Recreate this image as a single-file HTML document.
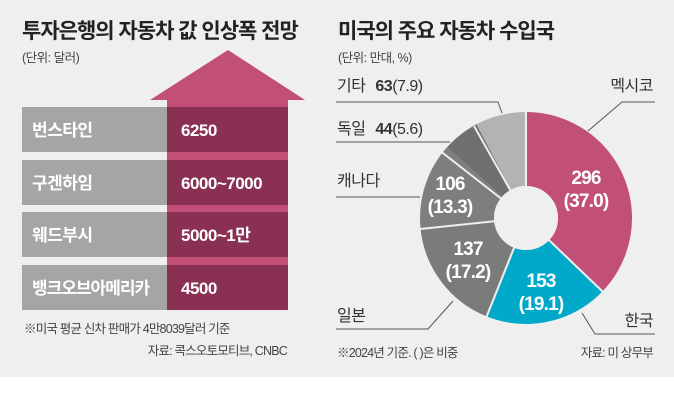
<!DOCTYPE html>
<html><head><meta charset="utf-8"><style>
body{margin:0;width:674px;height:414px;background:#fff;overflow:hidden;font-family:"Liberation Sans","Noto Sans CJK KR",sans-serif}
</style></head><body>
<svg width="674" height="414" xmlns="http://www.w3.org/2000/svg" style="font-family:'Liberation Sans','Noto Sans CJK KR',sans-serif">
<rect x="0" y="0" width="674" height="377" fill="#efefef"/>
<text x="22" y="38" font-size="21" font-weight="bold" fill="#222" letter-spacing="-1">투자은행의 자동차 값 인상폭 전망</text>
<text x="22" y="62" font-size="12.5" fill="#444" letter-spacing="-0.5">(단위: 달러)</text>
<polygon points="150,100 228,50 305,100 288,100 288,310 167,310 167,100" fill="#c24f78"/>
<g font-size="17" font-weight="bold" fill="#fff" letter-spacing="-0.5">
<rect x="22" y="107" width="145" height="45" fill="#a5a5a5"/><rect x="167" y="107" width="121" height="45" fill="#8a3052"/>
<text x="32" y="136">번스타인</text><text x="181" y="136">6250</text>
<rect x="22" y="160" width="145" height="45" fill="#a5a5a5"/><rect x="167" y="160" width="121" height="45" fill="#8a3052"/>
<text x="32" y="189">구겐하임</text><text x="181" y="189">6000~7000</text>
<rect x="22" y="212" width="145" height="45" fill="#a5a5a5"/><rect x="167" y="212" width="121" height="45" fill="#8a3052"/>
<text x="32" y="241">웨드부시</text><text x="181" y="241">5000~1만</text>
<rect x="22" y="265" width="145" height="45" fill="#a5a5a5"/><rect x="167" y="265" width="121" height="45" fill="#8a3052"/>
<text x="32" y="294" letter-spacing="-1">뱅크오브아메리카</text><text x="181" y="294">4500</text>
</g>
<text x="24" y="333" font-size="12.5" fill="#444" letter-spacing="-0.8">※미국 평균 신차 판매가 4만8039달러 기준</text>
<text x="287" y="355" font-size="12.5" fill="#444" letter-spacing="-0.8" text-anchor="end">자료: 콕스오토모티브, CNBC</text>

<text x="338" y="38" font-size="21" font-weight="bold" fill="#222" letter-spacing="-1">미국의 주요 자동차 수입국</text>
<text x="338" y="62" font-size="12.5" fill="#444" letter-spacing="-0.5">(단위: 만대, %)</text>

<g transform="rotate(-90 526 218)" fill="none" stroke-width="74">
<circle cx="526" cy="218" r="69" stroke="#c24f78" stroke-dasharray="160.4 433.5" stroke-dashoffset="0"/>
<circle cx="526" cy="218" r="69" stroke="#00a9ca" stroke-dasharray="82.8 433.5" stroke-dashoffset="-160.4"/>
<circle cx="526" cy="218" r="69" stroke="#7b7b7b" stroke-dasharray="74.6 433.5" stroke-dashoffset="-243.2"/>
<circle cx="526" cy="218" r="69" stroke="#7e7e7e" stroke-dasharray="57.7 433.5" stroke-dashoffset="-317.8"/>
<circle cx="526" cy="218" r="69" stroke="#6f6f6f" stroke-dasharray="24.3 433.5" stroke-dashoffset="-375.5"/>
<circle cx="526" cy="218" r="69" stroke="#b3b3b3" stroke-dasharray="33.7 433.5" stroke-dashoffset="-399.8"/>
</g>
<g stroke="#efefef" stroke-width="2">
<line x1="526" y1="218" x2="526" y2="110"/>
<line x1="526" y1="218" x2="603" y2="292"/>
<line x1="526" y1="218" x2="486" y2="318"/>
<line x1="526" y1="218" x2="420" y2="229"/>
<line x1="526" y1="218" x2="439" y2="150"/>
<line x1="526" y1="218" x2="474" y2="126"/>
</g>
<circle cx="526" cy="218" r="32" fill="#efefef"/>
<g font-size="19" font-weight="bold" fill="#fff" text-anchor="middle" letter-spacing="-0.8">
<text x="586" y="184">296</text><text x="586" y="207">(37.0)</text>
<text x="541" y="287">153</text><text x="541" y="310">(19.1)</text>
<text x="468" y="255">137</text><text x="468" y="278">(17.2)</text>
<text x="450" y="190">106</text><text x="450" y="213">(13.3)</text>
</g>
<g stroke="#555" stroke-width="1" fill="none">
<polyline points="336,102 498,102 502,113"/>
<polyline points="336,142 450,142"/>
<polyline points="336,197 420,197"/>
<polyline points="336,329 428,329 453,301"/>
<polyline points="655,334 595,334 582,313"/>
<polyline points="655,102 622,102 588,131"/>
</g>
<g font-size="16" fill="#333" letter-spacing="-0.5">
<text x="337" y="91">기타 <tspan font-weight="bold" dx="6">63</tspan>(7.9)</text>
<text x="337" y="134">독일 <tspan font-weight="bold" dx="6">44</tspan>(5.6)</text>
<text x="337" y="186">캐나다</text>
<text x="337" y="321">일본</text>
<text x="653" y="91" text-anchor="end">멕시코</text>
<text x="653" y="326" text-anchor="end">한국</text>
</g>
<text x="337" y="357" font-size="12.5" fill="#444" letter-spacing="-0.8">※2024년 기준. ( )은 비중</text>
<text x="653" y="357" font-size="12.5" fill="#444" letter-spacing="-0.8" text-anchor="end">자료: 미 상무부</text>
</svg>
</body></html>
